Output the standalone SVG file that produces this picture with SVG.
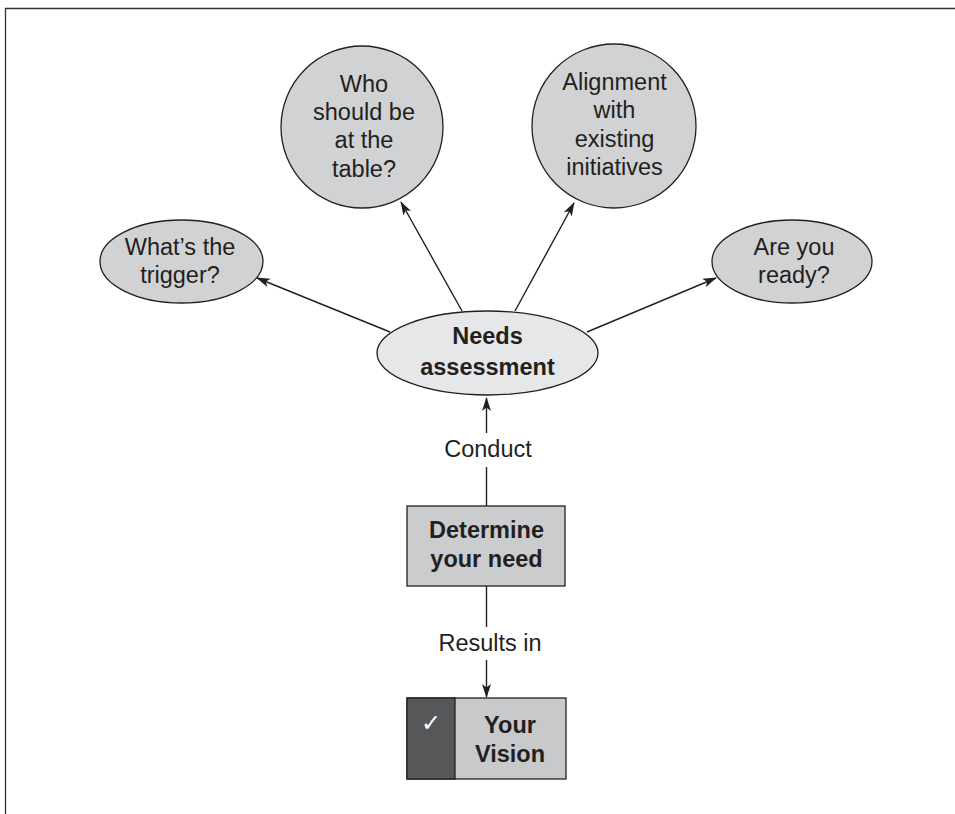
<svg xmlns="http://www.w3.org/2000/svg" width="955" height="814" viewBox="0 0 955 814">
<style>
.t{font-family:"Liberation Sans",Arial,sans-serif;font-size:23.5px;fill:#231f20;text-anchor:middle}
.b{font-weight:bold}
.n{fill:#d1d2d4;stroke:#231f20;stroke-width:1.3}
.c{stroke:#231f20;stroke-width:1.4;fill:none}
</style>
<defs>
<marker id="ah" viewBox="0 0 14 10" refX="13" refY="5" markerWidth="14" markerHeight="10" markerUnits="userSpaceOnUse" orient="auto">
<path d="M0,0.5 L14,5 L0,9.5 L3.5,5 z" fill="#231f20"/>
</marker>
</defs>
<rect width="955" height="814" fill="#fff"/>
<path d="M5.5,814 V8.5 H955" fill="none" stroke="#333" stroke-width="1.3"/>
<g id="connectors">
<line class="c" x1="390" y1="332" x2="257" y2="278" marker-end="url(#ah)"/>
<line class="c" x1="462" y1="311" x2="401" y2="202" marker-end="url(#ah)"/>
<line class="c" x1="515" y1="311" x2="574" y2="203" marker-end="url(#ah)"/>
<line class="c" x1="587" y1="332" x2="716" y2="278" marker-end="url(#ah)"/>
<line class="c" x1="486.5" y1="433" x2="486.5" y2="398" marker-end="url(#ah)"/>
<line class="c" x1="486.5" y1="506" x2="486.5" y2="467"/>
<text class="t" x="488" y="457">Conduct</text>
<line class="c" x1="486.5" y1="586" x2="486.5" y2="627"/>
<line class="c" x1="486.5" y1="660" x2="486.5" y2="697" marker-end="url(#ah)"/>
<text class="t" x="490" y="651">Results in</text>
</g>
<g id="trigger">
<ellipse class="n" cx="181.5" cy="261.5" rx="81.5" ry="41.5"/>
<text class="t" x="180" y="255">What’s the</text>
<text class="t" x="180" y="283">trigger?</text>
</g>
<g id="who">
<circle class="n" cx="362" cy="127" r="81"/>
<text class="t" x="364" y="92">Who</text>
<text class="t" x="364" y="120">should be</text>
<text class="t" x="364" y="148">at the</text>
<text class="t" x="364" y="177">table?</text>
</g>
<g id="alignment">
<circle class="n" cx="614" cy="126" r="82"/>
<text class="t" x="614.5" y="90">Alignment</text>
<text class="t" x="614.5" y="118">with</text>
<text class="t" x="614.5" y="147">existing</text>
<text class="t" x="614.5" y="175">initiatives</text>
</g>
<g id="ready">
<ellipse class="n" cx="792" cy="261.5" rx="80" ry="41.5"/>
<text class="t" x="794" y="255">Are you</text>
<text class="t" x="794" y="283">ready?</text>
</g>
<g id="needs">
<ellipse class="n" cx="487.5" cy="353" rx="110.5" ry="42" style="fill:#e6e7e8"/>
<text class="t b" x="487.5" y="344">Needs</text>
<text class="t b" x="487.5" y="375">assessment</text>
</g>
<g id="determine">
<rect x="407" y="506" width="158" height="80" fill="#cbcccd" stroke="#231f20" stroke-width="1.3"/>
<text class="t b" x="486.5" y="538">Determine</text>
<text class="t b" x="486.5" y="567">your need</text>
</g>
<g id="vision">
<rect x="407" y="698" width="159" height="81" fill="#c8c9cb" stroke="#231f20" stroke-width="1.3"/>
<rect x="407" y="698" width="48" height="81" fill="#555759" stroke="#231f20" stroke-width="1.3"/>
<text x="431" y="731" font-family="DejaVu Sans,sans-serif" font-size="24" font-weight="bold" fill="#fff" text-anchor="middle">✓</text>
<text class="t b" x="510" y="733">Your</text>
<text class="t b" x="510" y="762">Vision</text>
</g>
</svg>
